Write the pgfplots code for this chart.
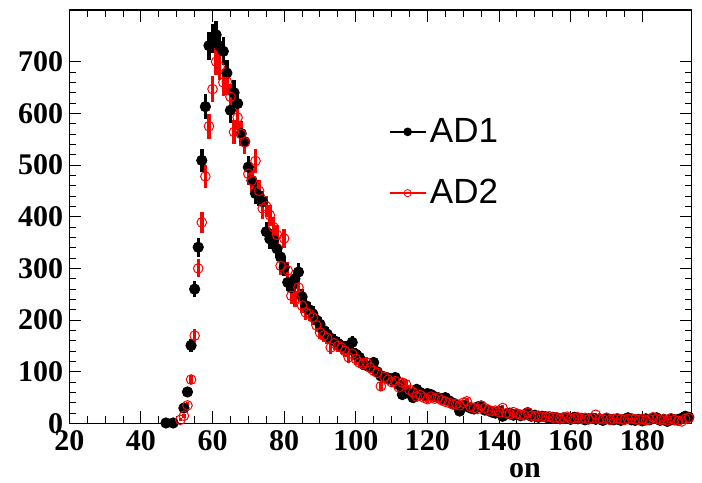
\documentclass[border=0pt]{standalone}
\usepackage{pgfplots}
\usepackage{pgfplotstable}
\pgfplotsset{compat=1.18}
\usepackage{fontspec}
\setmainfont{Liberation Serif}
\newfontfamily\legfont{Liberation Sans}

\pgfplotstableread{
x y
47 1
49 1
52 30
53 61
54 151
55 260
56 341
57 509
58 613
59 731
60 745
61 752
62 730
63 720
64 678
65 606
66 640
67 619
68 561
69 545
70 496
71 470
72 445
73 441
74 429
75 371
76 357
77 354
78 338
79 322
80 302
81 273
82 263
83 280
84 293
85 245
86 228
87 220
88 212
89 200
90 192
91 180
92 173
93 165
94 160
95 155
96 150
97 148
98 145
99 157
100 134
101 128
102 115
103 112
104 110
105 118
106 100
107 92
108 90
109 88
110 85
111 89
112 75
113 56
114 62
115 58
116 50
117 66
118 60
119 55
120 58
121 56
122 52
123 50
124 48
125 50
126 44
127 40
128 36
129 24
130 35
131 33
132 30
133 28
134 32
135 34
136 26
137 25
138 22
139 20
140 24
141 14
142 18
143 20
144 16
145 18
146 15
147 17
148 21
149 14
150 16
151 12
152 14
153 13
154 10
155 12
156 11
157 9
158 11
159 10
160 8
161 12
162 9
163 10
164 7
165 9
166 10
167 8
168 9
169 6
170 10
171 8
172 7
173 9
174 6
175 8
176 11
177 7
178 6
179 8
180 5
181 9
182 7
183 10
184 11
185 6
186 8
187 4
188 9
189 7
190 8
191 10
192 14
193 12
}\adone

\pgfplotstableread{
x y
51 7
52 15
53 35
54 85
55 170
56 300
57 389
58 478
59 575
60 647
61 700
62 690
63 660
64 661
65 632
66 564
67 592
68 560
69 544
70 483
71 470
72 508
73 450
74 416
75 420
76 403
77 380
78 365
79 305
80 358
81 296
82 247
83 241
84 263
85 228
86 215
87 212
88 205
89 190
90 176
91 170
92 166
93 147
94 155
95 150
96 147
97 140
98 128
99 135
100 125
101 118
102 115
103 118
104 108
105 102
106 98
107 72
108 90
109 85
110 80
111 82
112 70
113 79
114 76
115 65
116 60
117 52
118 55
119 50
120 47
121 52
122 48
123 50
124 45
125 42
126 40
127 37
128 38
129 35
130 40
131 43
132 32
133 30
134 28
135 34
136 30
137 26
138 24
139 25
140 22
141 30
142 20
143 18
144 22
145 19
146 17
147 16
148 21
149 15
150 14
151 15
152 13
153 12
154 14
155 11
156 12
157 10
158 11
159 13
160 9
161 10
162 12
163 9
164 11
165 8
166 10
167 17
168 9
169 8
170 11
171 7
172 9
173 10
174 8
175 7
176 9
177 10
178 8
179 7
180 9
181 6
182 8
183 12
184 9
185 7
186 8
187 6
188 10
189 7
190 5
191 4
192 9
193 11
}\adtwo

\begin{document}
\begin{tikzpicture}
\begin{axis}[
  scale only axis,
  width=311.2pt, height=206.75pt,
  xmin=20, xmax=193.8, ymin=0, ymax=800,
  xtick={20,40,...,180},
  ytick={0,100,...,700},
  yticklabels={\raisebox{-5.5pt}{0},100,200,300,400,500,600,700},
  minor x tick num=3, minor y tick num=4,
  tick align=inside,
  major tick length=6pt, minor tick length=3.5pt,
  axis line style={line width=0.6pt, black},
  tick style={line width=0.5pt, black},
  /pgf/number format/assume math mode=true,
  ticklabel style={font=\fontsize{15}{15}\selectfont\bfseries},
  yticklabel style={xshift=0.5pt},
  legend style={at={(0.512,0.631)}, anchor=west, draw=none, fill=none,
    inner sep=0pt, row sep=14pt, font=\legfont\fontsize{17.5}{17.5}\selectfont,
    nodes={inner sep=1.5pt}},
  legend cell align=left,
  legend image code/.code={\draw[#1, mark repeat=2, mark phase=2]
     plot coordinates {(0pt,0pt) (9pt,0pt) (18pt,0pt)};},
]
\addlegendimage{black, line width=0.7pt, mark=*, mark size=1.8pt, mark options={fill=black}}
\addlegendentry{AD1}
\addlegendimage{red, line width=1.3pt, mark=o, mark size=1.8pt, mark options={line width=0.4pt, fill=white}}
\addlegendentry{AD2}

\addplot[only marks, black, mark=*, mark size=2.6pt,
  error bars/.cd, y dir=both, y explicit, error mark=none,
  error bar style={line width=1.7pt, black}]
  table[x=x, y=y, y error expr={sqrt(\thisrow{y})}] {\adone};
\addplot[only marks, red, mark=o, mark size=2.4pt, mark options={line width=0.5pt},
  error bars/.cd, y dir=both, y explicit, error mark=none,
  error bar style={line width=1.7pt, red}]
  table[x=x, y=y, y error expr={sqrt(\thisrow{y})}] {\adtwo};
\end{axis}
\node[anchor=base, inner sep=0pt, font=\fontsize{15}{15}\selectfont\bfseries]
  at ([xshift=0.732*311.2pt, yshift=-27pt]current axis.south west) {on};
\pgfresetboundingbox
\path[use as bounding box]
  ([shift={(-34.65pt,-29.75pt)}]current axis.south west)
  rectangle ([shift={(5.15pt,5pt)}]current axis.north east);
\end{tikzpicture}
\end{document}
